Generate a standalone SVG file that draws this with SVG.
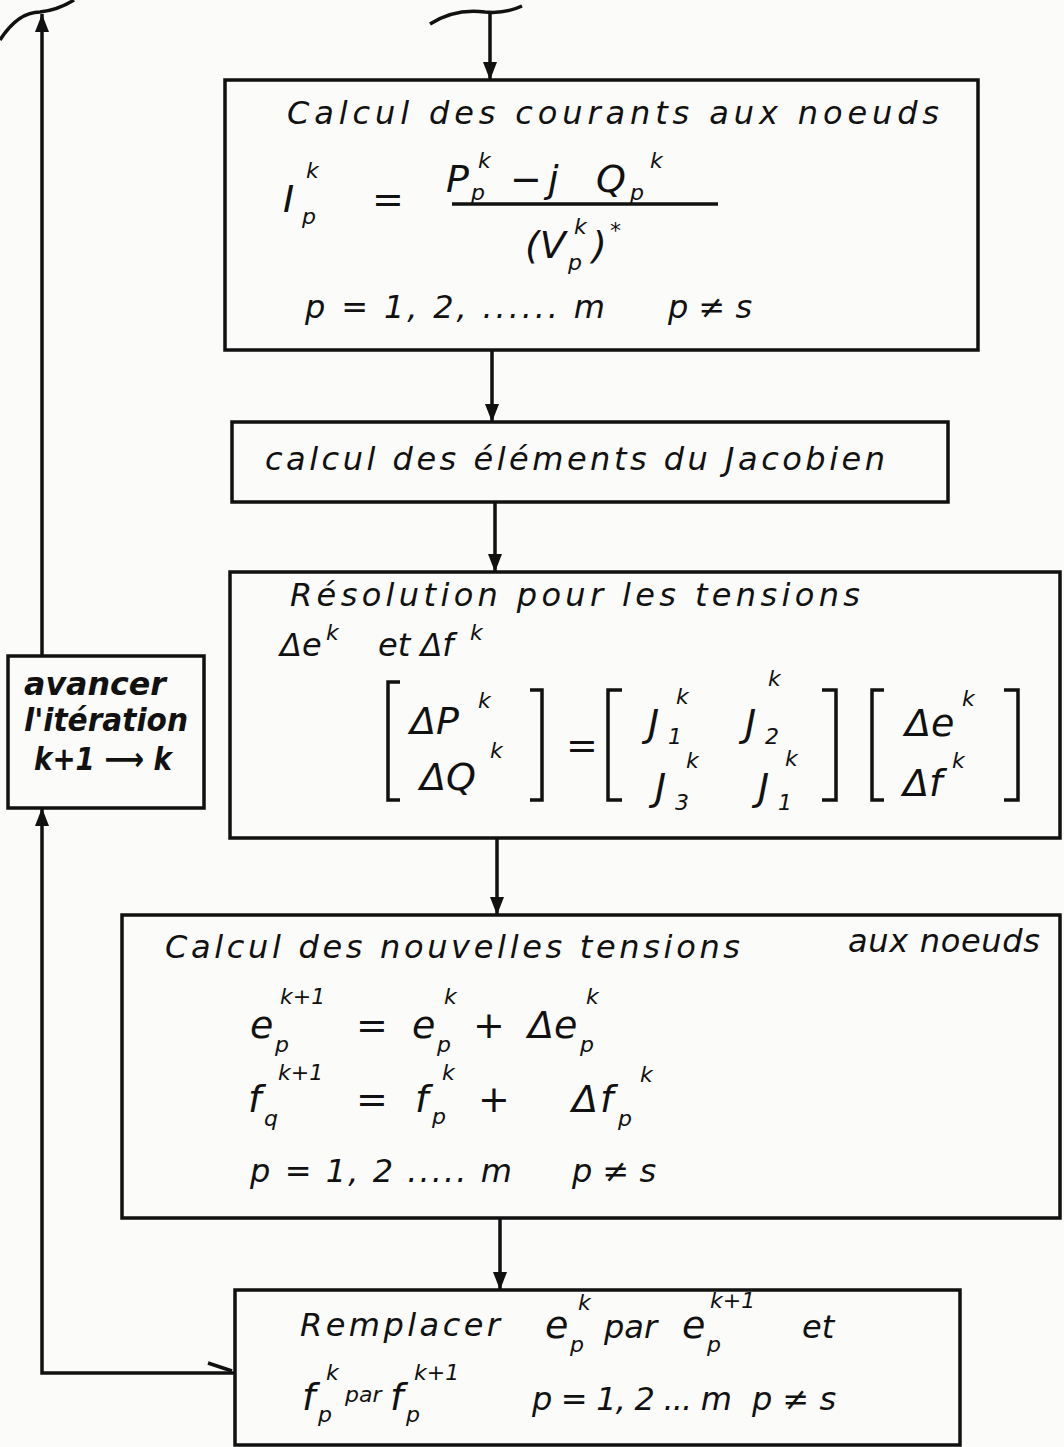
<svg xmlns="http://www.w3.org/2000/svg" width="1064" height="1447" viewBox="0 0 1064 1447">
<defs>
<style>
.box{fill:none;stroke:#111;stroke-width:3.5}
.ln{fill:none;stroke:#111;stroke-width:3.5}
.t{font-family:"DejaVu Sans","Liberation Sans",sans-serif;font-style:italic;fill:#111;font-size:32px}
.m{font-family:"DejaVu Sans","Liberation Sans",sans-serif;font-style:italic;fill:#111;font-size:38px}
.s{font-size:22px}
.b{font-weight:bold}
.br{fill:none;stroke:#111;stroke-width:3.5}
</style>
<marker id="ah" viewBox="0 0 18 14" refX="18" refY="7" markerWidth="18" markerHeight="14" markerUnits="userSpaceOnUse" orient="auto">
<path d="M0,0 L18,7 L0,14 Z" fill="#111"/>
</marker>
</defs>
<rect width="1064" height="1447" fill="#fbfbf9"/>

<g id="connectors">
<path class="ln" d="M430,24 Q455,8 485,12 Q505,14 522,6"/>
<path class="ln" d="M490,12 V80" marker-end="url(#ah)"/>
<path class="ln" d="M492,350 V422" marker-end="url(#ah)"/>
<path class="ln" d="M495,502 V572" marker-end="url(#ah)"/>
<path class="ln" d="M497,838 V915" marker-end="url(#ah)"/>
<path class="ln" d="M500,1218 V1290" marker-end="url(#ah)"/>
<path class="ln" d="M235,1373 H42 V808" marker-end="url(#ah)"/>
<path class="ln" d="M208,1363 L232,1371" stroke-width="2"/>
<path class="ln" d="M42,656 V14" marker-end="url(#ah)"/>
<path class="ln" d="M0,40 Q18,12 40,12 Q58,10 74,0"/>
</g>

<g id="node-courants">
<rect class="box" x="225" y="80" width="753" height="270"/>
<text class="t" x="287" y="124" textLength="652" lengthAdjust="spacing">Calcul des courants aux noeuds</text>
<text class="m" x="283" y="212">I</text>
<text class="m s" x="306" y="178">k</text>
<text class="m s" x="302" y="224">p</text>
<text class="m" x="372" y="212">=</text>
<text class="m" x="446" y="192">P</text>
<text class="m s" x="478" y="168">k</text>
<text class="m s" x="471" y="200">p</text>
<text class="m" x="510" y="192">−</text>
<text class="m" x="548" y="192">j</text>
<text class="m" x="596" y="192">Q</text>
<text class="m s" x="650" y="168">k</text>
<text class="m s" x="630" y="200">p</text>
<path class="ln" d="M452,204 H718" stroke-width="3"/>
<text class="m" x="525" y="258">(V</text>
<text class="m s" x="574" y="234">k</text>
<text class="m s" x="568" y="270">p</text>
<text class="m" x="592" y="258">)</text>
<text class="m s" x="610" y="238">*</text>
<text class="t" x="305" y="318" textLength="300" lengthAdjust="spacing">p = 1, 2, ...... m</text>
<text class="t" x="668" y="318">p ≠ s</text>
</g>

<g id="node-jacobien">
<rect class="box" x="232" y="422" width="716" height="80"/>
<text class="t" x="265" y="470" textLength="620" lengthAdjust="spacing">calcul des éléments du Jacobien</text>
</g>

<g id="node-resolution">
<rect class="box" x="230" y="572" width="830" height="266"/>
<text class="t" x="290" y="606" textLength="570" lengthAdjust="spacing">Résolution pour les tensions</text>
<text class="t" x="280" y="656">Δe</text>
<text class="t s" x="326" y="640">k</text>
<text class="t" x="378" y="656">et Δf</text>
<text class="t s" x="470" y="640">k</text>
<path class="br" d="M400,682 H388 V800 H400"/>
<text class="m" x="410" y="734">ΔP</text>
<text class="m s" x="478" y="708">k</text>
<text class="m" x="420" y="790">ΔQ</text>
<text class="m s" x="490" y="758">k</text>
<path class="br" d="M530,690 H542 V800 H530"/>
<text class="m" x="566" y="758">=</text>
<path class="br" d="M622,690 H608 V800 H622"/>
<text class="m" x="648" y="736">J</text>
<text class="m s" x="668" y="744">1</text>
<text class="m s" x="676" y="704">k</text>
<text class="m" x="745" y="736">J</text>
<text class="m s" x="765" y="744">2</text>
<text class="m s" x="768" y="686">k</text>
<text class="m" x="655" y="800">J</text>
<text class="m s" x="675" y="810">3</text>
<text class="m s" x="686" y="768">k</text>
<text class="m" x="758" y="800">J</text>
<text class="m s" x="778" y="810">1</text>
<text class="m s" x="785" y="766">k</text>
<path class="br" d="M822,690 H836 V800 H822"/>
<path class="br" d="M884,690 H872 V800 H884"/>
<text class="m" x="905" y="736">Δe</text>
<text class="m s" x="962" y="706">k</text>
<text class="m" x="903" y="796">Δf</text>
<text class="m s" x="952" y="768">k</text>
<path class="br" d="M1004,690 H1018 V800 H1004"/>
</g>

<g id="node-avancer">
<rect class="box" x="8" y="656" width="196" height="152"/>
<text class="t b" x="24" y="695" textLength="142" lengthAdjust="spacingAndGlyphs">avancer</text>
<text class="t b" x="24" y="731" textLength="164" lengthAdjust="spacingAndGlyphs">l'itération</text>
<text class="t b" x="34" y="770" textLength="138" lengthAdjust="spacingAndGlyphs">k+1 ⟶ k</text>
</g>

<g id="node-nouvelles">
<rect class="box" x="122" y="915" width="938" height="303"/>
<text class="t" x="165" y="958" textLength="575" lengthAdjust="spacing">Calcul des nouvelles tensions</text>
<text class="t" x="848" y="952" textLength="192" lengthAdjust="spacing">aux noeuds</text>
<text class="m" x="250" y="1038">e</text>
<text class="m s" x="275" y="1052">p</text>
<text class="m s" x="280" y="1004">k+1</text>
<text class="m" x="356" y="1038">=</text>
<text class="m" x="412" y="1038">e</text>
<text class="m s" x="437" y="1052">p</text>
<text class="m s" x="444" y="1004">k</text>
<text class="m" x="473" y="1038">+</text>
<text class="m" x="528" y="1038">Δe</text>
<text class="m s" x="580" y="1052">p</text>
<text class="m s" x="586" y="1004">k</text>
<text class="m" x="248" y="1112">f</text>
<text class="m s" x="264" y="1126">q</text>
<text class="m s" x="278" y="1080">k+1</text>
<text class="m" x="356" y="1112">=</text>
<text class="m" x="415" y="1112">f</text>
<text class="m s" x="432" y="1124">p</text>
<text class="m s" x="442" y="1080">k</text>
<text class="m" x="478" y="1112">+</text>
<text class="m" x="572" y="1112">Δ</text>
<text class="m" x="600" y="1112">f</text>
<text class="m s" x="618" y="1126">p</text>
<text class="m s" x="640" y="1082">k</text>
<text class="t" x="250" y="1182" textLength="262" lengthAdjust="spacing">p = 1, 2 ..... m</text>
<text class="t" x="572" y="1182">p ≠ s</text>
</g>

<g id="node-remplacer">
<rect class="box" x="235" y="1290" width="725" height="155"/>
<text class="t" x="300" y="1336" textLength="200" lengthAdjust="spacing">Remplacer</text>
<text class="m" x="545" y="1338">e</text>
<text class="m s" x="570" y="1352">p</text>
<text class="m s" x="578" y="1310">k</text>
<text class="t" x="604" y="1338">par</text>
<text class="m" x="682" y="1338">e</text>
<text class="m s" x="707" y="1352">p</text>
<text class="m s" x="710" y="1308">k+1</text>
<text class="t" x="802" y="1338">et</text>
<text class="m" x="302" y="1410">f</text>
<text class="m s" x="318" y="1422">p</text>
<text class="m s" x="326" y="1380">k</text>
<text class="t s" x="345" y="1402">par</text>
<text class="m" x="390" y="1410">f</text>
<text class="m s" x="406" y="1422">p</text>
<text class="m s" x="414" y="1380">k+1</text>
<text class="t" x="532" y="1410" textLength="200" lengthAdjust="spacing">p = 1, 2 ... m</text>
<text class="t" x="752" y="1410">p ≠ s</text>
</g>
</svg>
